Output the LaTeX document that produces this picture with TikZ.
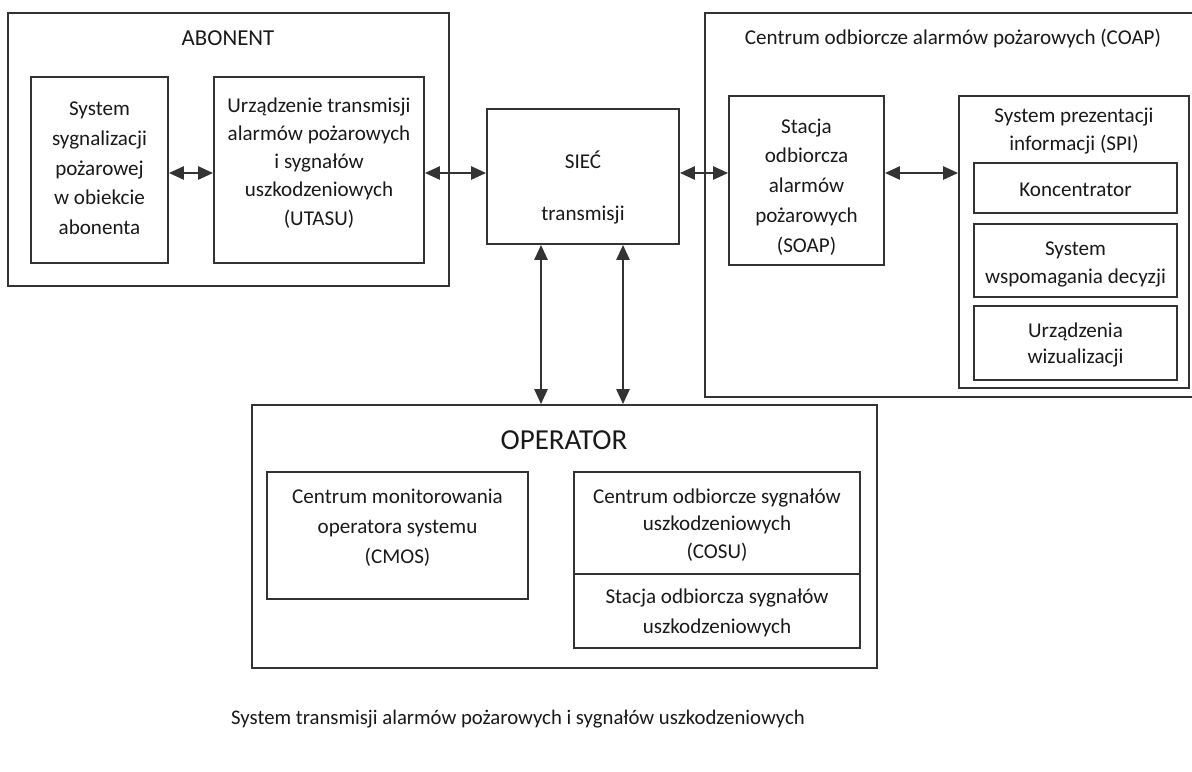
\documentclass[tikz,border=0pt]{standalone}
\usepackage{fontspec}
\setmainfont{Carlito}
\usetikzlibrary{arrows.meta,fit}

\tikzset{
  box/.style={draw=black!80, line width=1.1pt, inner sep=0pt},
  inbox/.style={text=black!90, align=center, yshift=-1.2pt,
    font=\fontsize{12}{16}\selectfont},
  link/.style={draw=black!80, line width=1.2pt,
    {Triangle[length=8.5pt,width=7.5pt]}-{Triangle[length=8.5pt,width=7.5pt]}},
  title/.style={text=black!90, align=center, font=\fontsize{12}{16}\selectfont}
}

\begin{document}
\begin{tikzpicture}[x=0.02cm, y=-0.02cm]
\useasboundingbox (0,0) rectangle (1192,771);

% ABONENT
\node[box, fit={(8,13) (449,286)}] (abonent) {};
\node[title, font=\fontsize{13}{16}\selectfont] (abonentlbl) at (228,38) {ABONENT};
\node[box, fit={(31,77) (168,263)},
  label={[inbox, yshift=2.2pt, font=\fontsize{12}{17}\selectfont]center:System\\sygnalizacji\\pożarowej\\w obiekcie\\abonenta}] (ssp) {};
\node[box, fit={(214,77) (424,263)},
  label={[inbox, yshift=5.2pt]center:Urządzenie transmisji\\alarmów pożarowych\\i sygnałów\\uszkodzeniowych\\(UTASU)}] (utasu) {};

% siec
\node[box, fit={(487,109) (679,244)}] (siec) {};
\node[title] (sieclbl) at (583,160) {SIEĆ};
\node[title] (transmlbl) at (583,215) {transmisji};

% COAP
\node[box, fit={(705,13) (1196,397)}] (coap) {};
\node[title] (coaplbl) at (953,38) {Centrum odbiorcze alarmów pożarowych (COAP)};
\node[box, fit={(729,96) (884,265)},
  label={[inbox, yshift=-2.5pt, font=\fontsize{12}{17}\selectfont]center:Stacja\\odbiorcza\\alarmów\\pożarowych\\(SOAP)}] (soap) {};
\node[box, fit={(959,96) (1189,388)}] (spi) {};
\node[title] (spilbl) at (1074,131) {System prezentacji\\informacji (SPI)};
\node[box, fit={(974,163) (1177,213)}, label={[inbox]center:Koncentrator}] (konc) {};
\node[box, fit={(974,224) (1177,297)}, label={[inbox, yshift=-1.3pt]center:System\\wspomagania decyzji}] (swd) {};
\node[box, fit={(974,306) (1177,380)}, label={[inbox, font=\fontsize{12}{14.5}\selectfont]center:Urządzenia\\wizualizacji}] (wiz) {};

% OPERATOR
\node[box, fit={(252,405) (877,668)}] (operator) {};
\node[title, font=\fontsize{16.5}{18}\selectfont] (operatorlbl) at (564,440) {OPERATOR};
\node[box, fit={(267,472) (528,599)},
  label={[inbox, yshift=5.5pt, font=\fontsize{12}{17}\selectfont]center:Centrum monitorowania\\operatora systemu\\(CMOS)}] (cmos) {};
\node[box, fit={(574,472) (860,574)},
  label={[inbox, font=\fontsize{12}{15.5}\selectfont]center:Centrum odbiorcze sygnałów\\uszkodzeniowych\\(COSU)}] (cosu) {};
\node[box, fit={(574,574) (860,648)},
  label={[inbox, font=\fontsize{12}{17}\selectfont]center:Stacja odbiorcza sygnałów\\uszkodzeniowych}] (sosu) {};

\node[title, font=\fontsize{11.8}{14}\selectfont] (caption) at (518,719) {System transmisji alarmów pożarowych i sygnałów uszkodzeniowych};

% connectors
\coordinate (row) at (0,173);
\coordinate (colA) at (541,0);
\coordinate (colB) at (623,0);
\draw[link] (ssp.east |- row) -- (utasu.west |- row);
\draw[link] (utasu.east |- row) -- (siec.west |- row);
\draw[link] (siec.east |- row) -- (soap.west |- row);
\draw[link] (soap.east |- row) -- (spi.west |- row);
\draw[link] (siec.south -| colA) -- (operator.north -| colA);
\draw[link] (siec.south -| colB) -- (operator.north -| colB);

\end{tikzpicture}
\end{document}
